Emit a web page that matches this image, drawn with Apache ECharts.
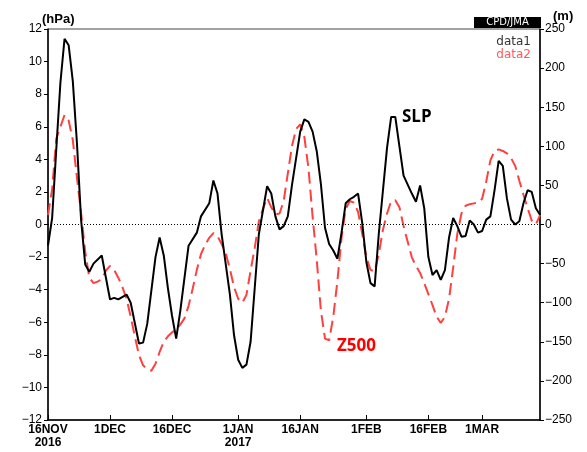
<!DOCTYPE html>
<html><head><meta charset="utf-8">
<script src="https://cdn.jsdelivr.net/npm/echarts@6/dist/echarts.min.js"></script>
<style>html,body{margin:0;padding:0;background:#fff}#c{width:587px;height:452px}</style>
</head><body><div id="c"></div>
<script>
// x positions are days since 16 Nov 2016
const tickDays = [0, 15, 30, 46, 61, 77, 92, 105];
const tickLabels = ['16NOV\n2016', '1DEC', '16DEC', '1JAN\n2017', '16JAN', '1FEB', '16FEB', '1MAR'];

// SLP anomaly (hPa), left axis
const slpDays = [0,1,2,3,4,5,6,7,8,9,10,11,13,15,16,17,19,20,22,23,24,26,27,28,29,30,31,32,34,36,37,39,40,41,42,44,45,46,47,48,49,50,51,53,54,55,56,57,58,59,61,62,63,64,65,66,67,68,69,70,71,72,73,74,75,76,77,78,79,80,82,83,84,85,86,88,89,90,91,92,93,94,95,96,97,98,99,100,101,102,103,104,105,106,107,108,109,110,111,112,113,114,115,116,117,118,119];
const slpValues = [-1.3,0.4,4.6,8.7,11.4,11.0,8.8,5.0,0.3,-2.45,-2.9,-2.4,-1.9,-4.6,-4.5,-4.6,-4.3,-4.8,-7.3,-7.25,-6.1,-2.0,-0.8,-1.9,-3.9,-5.6,-7.0,-5.3,-1.3,-0.5,0.5,1.3,2.7,1.9,-0.6,-4.3,-6.8,-8.3,-8.8,-8.6,-7.2,-3.9,-0.6,2.35,1.9,0.5,-0.3,-0.1,0.5,2.4,5.7,6.45,6.3,5.7,4.5,2.5,-0.2,-1.2,-1.6,-2.1,-0.5,1.3,1.55,1.7,1.9,0.1,-2.3,-3.6,-3.8,-0.6,4.7,6.6,6.6,4.8,3.0,1.9,1.4,2.4,1.0,-2.0,-3.1,-2.8,-3.4,-2.8,-0.8,0.4,-0.1,-0.75,-0.7,0.25,0.0,-0.5,-0.4,0.3,0.5,2.1,3.9,3.6,1.6,0.3,0.0,0.2,1.3,2.1,2.0,1.0,0.6];

// Z500 anomaly (m), right axis
const z500Days = [0,1,2,3,4,5,6,7,8,9,10,11,12,13,14,15,16,17,18,19,20,21,22,23,24,25,26,27,28,29,30,31,32,33,34,35,36,37,38,39,40,41,42,43,44,45,46,47,48,49,50,51,52,53,54,55,56,57,58,59,60,61,62,63,64,65,66,67,68,69,70,71,72,73,74,75,76,77,78,79,80,81,82,83,84,85,86,87,88,89,90,91,92,93,94,95,96,97,98,99,100,101,102,103,104,105,106,107,108,109,110,111,112,113,114,115,116,117,118,119];
const z500Values = [12,45,110,125,140,133,108,60,15,-35,-68,-75,-73,-70,-59,-53,-58,-68,-80,-95,-118,-143,-167,-180,-185,-187,-178,-163,-150,-143,-138,-134,-128,-120,-104,-82,-58,-38,-26,-17,-11,-15,-25,-37,-57,-80,-95,-100,-90,-59,-30,4,20,34,22,13,14,30,65,100,122,128,112,72,10,-45,-110,-146,-148,-118,-72,-17,20,30,28,16,-12,-42,-58,-60,-38,-7,14,30,31,22,-2,-22,-42,-53,-62,-75,-89,-103,-118,-126,-118,-95,-55,-12,14,24,26,27,28,33,55,82,94,96,94,91,85,75,56,38,21,5,0,12];

const seriesNames = ['data1', 'data2'];

function fmt(v) { return v < 0 ? '\u2212' + (-v) : String(v); }
const zip = (a, b) => a.map((d, i) => [d, b[i]]);

const chart = echarts.init(document.getElementById('c'), null, {renderer: 'canvas'});
const axisFont = {color: '#000', fontSize: 12, fontFamily: 'Liberation Sans, Arial, sans-serif'};
chart.setOption({
  animation: false,
  backgroundColor: '#fff',
  grid: {left: 48, right: 47, top: 29, bottom: 32, show: true, borderColor: '#444', borderWidth: 1},
  legend: {
    orient: 'vertical', right: 56, top: 36, icon: 'none', itemWidth: 0, itemHeight: 10, itemGap: 1, padding: 0,
    selectedMode: false,
    textStyle: {fontSize: 12, fontFamily: 'DejaVu Sans, sans-serif', padding: 0},
    data: [{name: seriesNames[0], textStyle: {color: '#333'}}, {name: seriesNames[1], textStyle: {color: '#ff5a5a'}}]
  },
  xAxis: {
    type: 'value', min: 0, max: 119,
    axisLine: {show: true, onZero: false, lineStyle: {color: '#000', width: 1.5}},
    axisTick: {show: true, inside: true, length: 5, customValues: tickDays, lineStyle: {color: '#000'}},
    axisLabel: {customValues: tickDays, formatter: v => tickLabels[tickDays.indexOf(v)], color: '#000', fontSize: 12,
      fontWeight: 'bold', fontFamily: 'Liberation Sans Narrow, Liberation Sans, Arial, sans-serif', lineHeight: 13, margin: 3},
    splitLine: {show: false}
  },
  yAxis: [
    {type: 'value', position: 'left', min: -12, max: 12, interval: 2,
      axisLine: {show: true, lineStyle: {color: '#000', width: 1.5}},
      axisTick: {show: true, inside: false, length: 4, lineStyle: {color: '#000'}},
      axisLabel: Object.assign({formatter: fmt, margin: 6}, axisFont),
      splitLine: {show: false}},
    {type: 'value', position: 'right', min: -250, max: 250, interval: 50,
      axisLine: {show: true, lineStyle: {color: '#000', width: 1.5}},
      axisTick: {show: true, inside: false, length: 4, lineStyle: {color: '#000'}},
      axisLabel: Object.assign({formatter: fmt, margin: 5}, axisFont),
      splitLine: {show: false}}
  ],
  series: [
    {name: seriesNames[0], type: 'line', yAxisIndex: 0, showSymbol: false, z: 3,
      data: zip(slpDays, slpValues), lineStyle: {color: '#000', width: 2}, itemStyle: {color: '#000'},
      markLine: {silent: true, symbol: 'none', label: {show: false},
        lineStyle: {color: '#000', type: [1, 2], width: 1}, data: [{yAxis: 0}]}},
    {name: seriesNames[1], type: 'line', yAxisIndex: 1, showSymbol: false, z: 2,
      data: zip(z500Days, z500Values), lineStyle: {color: '#ff4040', width: 2, type: [12, 6]}, itemStyle: {color: '#ff4040'}}
  ],
  graphic: [
    {type: 'text', left: 42, top: 13, style: {text: '(hPa)', font: 'bold 13px Liberation Sans, Arial, sans-serif', fill: '#000'}},
    {type: 'text', left: 553, top: 10, style: {text: '(m)', font: 'bold 13px Liberation Sans, Arial, sans-serif', fill: '#000'}},
    {type: 'rect', shape: {x: 474, y: 17, width: 67, height: 11}, style: {fill: '#000'}},
    {type: 'text', x: 507.5, y: 22.5, style: {text: 'CPD/JMA', font: '10px DejaVu Sans, sans-serif', fill: '#fff', align: 'center', verticalAlign: 'middle'}},
    {type: 'text', left: 402, top: 109, style: {text: 'SLP', font: 'bold 17px Open Sans, sans-serif', fill: '#000'}},
    {type: 'text', left: 337, top: 338, style: {text: 'Z500', font: 'bold 17px Open Sans, sans-serif', fill: '#ff0000'}}
  ]
});
</script></body></html>
